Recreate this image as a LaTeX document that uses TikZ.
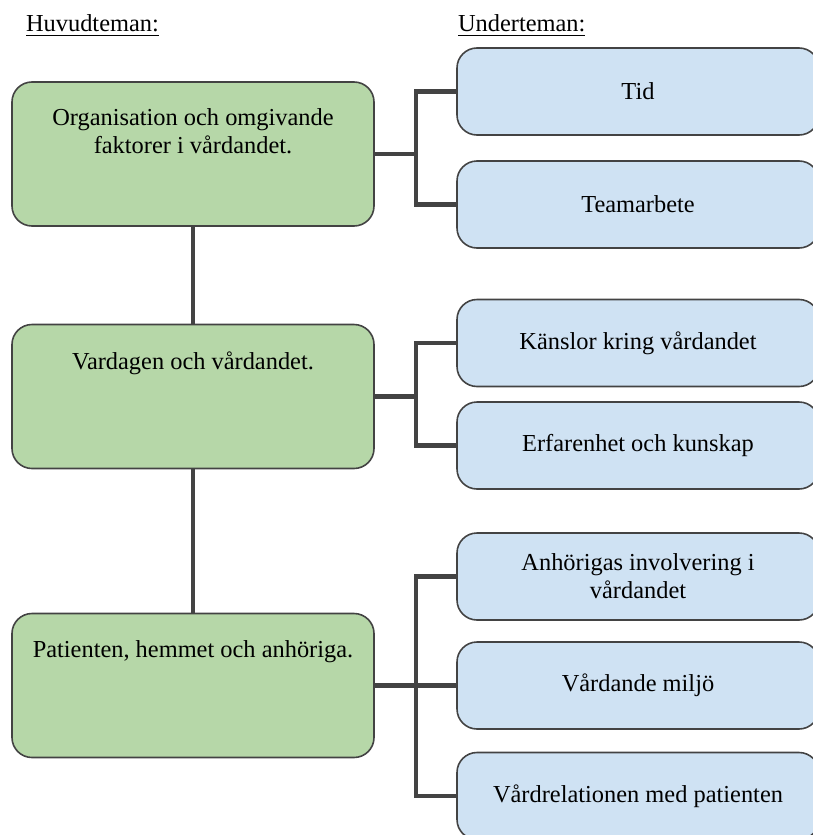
\documentclass[tikz,border=0pt]{standalone}
\usepackage{fontspec}
\setmainfont{Liberation Serif}
\definecolor{mainfill}{HTML}{B6D7A8}
\definecolor{subfill}{HTML}{CFE2F3}
\definecolor{linegray}{HTML}{434343}
\newcommand{\toptext}[1]{\parbox[t][45pt][t]{170pt}{\centering #1}}

\begin{document}
\begin{tikzpicture}[x=0.5pt,y=-0.5pt,
  font=\fontsize{12.2}{14}\selectfont,
  mainbox/.style={draw=linegray,line width=0.8pt,fill=mainfill,rounded corners=10pt,
    minimum width=181pt,inner xsep=5.5pt,inner ysep=13.5pt},
  subbox/.style={draw=linegray,line width=0.8pt,fill=subfill,rounded corners=10pt,
    minimum width=181pt,minimum height=43.5pt,align=center},
  link/.style={draw=linegray,line width=2.2pt}]
  \useasboundingbox (0,0) rectangle (813,835);
  \clip (0,0) rectangle (813,835);
  % Rubriker
  \node[anchor=base west] (huvud) at (19,32) {\underline{Huvudteman:}};
  \node[anchor=base west] (under) at (451,32) {\underline{Underteman:}};
  % Huvudteman (vänster)
  \node[mainbox] (org)  at (193,154)   {\toptext{Organisation och omgivande\\faktorer i vårdandet.}};
  \node[mainbox] (vard) at (193,396.5) {\toptext{Vardagen och vårdandet.}};
  \node[mainbox] (pat)  at (193,685.5) {\toptext{Patienten, hemmet och anhöriga.}};
  % Underteman (höger)
  \node[subbox] (tid)   at (638,91.5)  {Tid};
  \node[subbox] (team)  at (638,204.5) {Teamarbete};
  \node[subbox] (kans)  at (638,343)   {Känslor kring vårdandet};
  \node[subbox] (erf)   at (638,445.5) {Erfarenhet och kunskap};
  \node[subbox] (anh)   at (638,576.5) {Anhörigas involvering i\\vårdandet};
  \node[subbox] (miljo) at (638,685.5) {Vårdande miljö};
  \node[subbox] (rel)   at (638,796)   {Vårdrelationen med patienten};
  % Lodräta länkar
  \draw[link] (org) -- (vard);
  \draw[link] (vard) -- (pat);
  % Grenar
  \draw[link] (org.east) -- ++(41,0) coordinate (j1);
  \draw[link] (tid.west) -| (j1) |- (team.west);
  \draw[link] (vard.east) -- ++(41,0) coordinate (j2);
  \draw[link] (kans.west) -| (j2) |- (erf.west);
  \draw[link] (pat.east) -- ++(41,0) coordinate (j3);
  \draw[link] (anh.west) -| (j3) |- (rel.west);
  \draw[link] (j3) -- (miljo.west);
\end{tikzpicture}
\end{document}
